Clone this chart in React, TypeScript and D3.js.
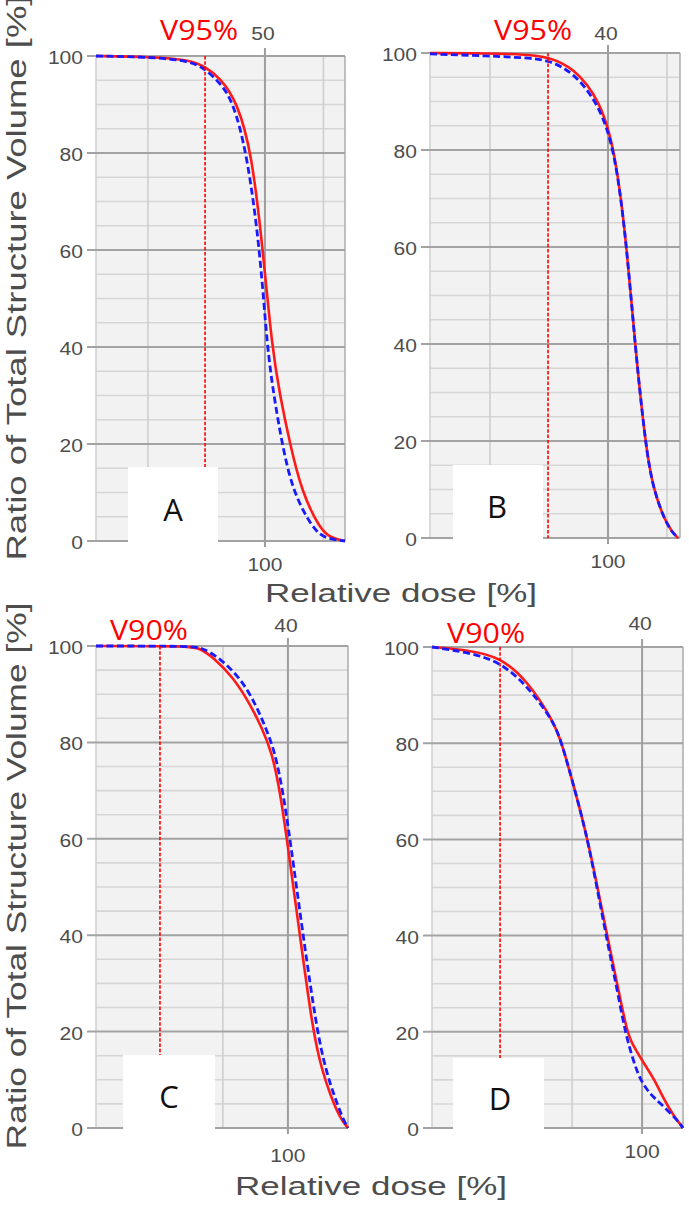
import React from 'react';
import * as d3 from 'd3';

type Pt = [number, number];

// [relative dose %, volume %]
const redA: Pt[] = [[27.8, 100], [51, 99.8], [68, 99.2], [74.4, 97.8], [80.8, 95.5], [88, 90.7], [94.4, 80], [99.1, 60], [103, 40], [106.4, 30], [110.7, 20], [115.8, 10], [123.5, 2.5], [127.8, 0.7], [134.2, 0]];
const blueA: Pt[] = [[27.8, 100], [51, 99.8], [68, 99], [74.4, 97.3], [80.8, 94.5], [86.3, 90.7], [92.3, 80], [97.9, 60], [100.9, 40], [103.8, 30], [107.3, 20], [112, 10], [120.5, 2.5], [125.6, 0.5], [134.2, 0]];

const redB: Pt[] = [[24.6, 100], [50, 99.9], [65, 99.7], [74.6, 99.2], [85.2, 97.1], [96.6, 90.3], [103, 80], [108, 60], [111.4, 40], [115.7, 20], [119, 10], [125.4, 2], [129.7, 0]];
const blueB: Pt[] = [[24.6, 99.8], [50, 99.4], [65, 99], [74.6, 98.6], [85.2, 96.1], [95.8, 89.7], [103, 80], [108, 60], [111.4, 40], [115.7, 20], [119, 10], [125.4, 2], [129.7, 0]];

const redC: Pt[] = [[26.2, 100], [62.3, 100], [66.2, 99.5], [71.2, 97.7], [78.8, 93.6], [85.4, 88], [90, 83], [93.8, 78], [96.9, 70], [99.6, 60], [104.6, 40], [109.6, 20], [113.1, 12], [116.2, 7], [120, 2], [123.1, 0]];
const blueC: Pt[] = [[26.2, 100], [63, 100], [67.3, 99.5], [72.5, 98], [81.5, 93.6], [87.5, 88], [91.5, 83], [95, 78], [98, 70], [100.8, 60], [105.8, 40], [111.2, 20], [114.6, 12], [117.6, 7], [121, 2], [123.1, 0]];

const redD: Pt[] = [[25, 100], [38.6, 99.3], [49.3, 97.9], [58.9, 93.1], [68.2, 84.8], [71.4, 80], [76.1, 70], [80.7, 60], [87.5, 40], [91.1, 30], [94.6, 20], [96.4, 17.5], [101.1, 13], [103.9, 10.6], [108.2, 5.5], [111.1, 2.7], [114.6, 0]];
const blueD: Pt[] = [[25, 100], [38.6, 98.8], [49.3, 96.9], [58.9, 92], [68.2, 84.8], [71.4, 80], [76.1, 70], [80.7, 60], [87.1, 40], [90.7, 30], [93.9, 20], [96.8, 14.1], [99.3, 10], [102.9, 7], [106.4, 5.2], [112.5, 1.7], [114.6, 0]];

const redSeries = [redA, redB, redC, redD];
const blueSeries = [blueA, blueB, blueC, blueD];
const doseDomains: Pt[] = [[27.8, 134.2], [24.6, 130.5], [26.2, 123.1], [25, 114.6]];
const minorDose = [[50, 125], [50, 125], [75], [75]];
const majorDose = [100];
const markerDose = [74.4, 74.6, 50.8, 49.3];
const markerLabels = ['V95%', 'V95%', 'V90%', 'V90%'];
const topTickLabels = ['50', '40', '40', '40'];
const bottomTickLabel = '100';
const panelLetters = ['A', 'B', 'C', 'D'];
const volumeTicks = [0, 20, 40, 60, 80, 100];
const volumeMinor = [5, 10, 15, 25, 30, 35, 45, 50, 55, 65, 70, 75, 85, 90, 95];

const xTitle = 'Relative dose [%]';
const yTitle = 'Ratio of Total Structure Volume [%]';

// page layout of the four panels
const layout = [
  { x0: 96, x1: 345, yTop: 56, yBot: 541, box: [128, 467, 90, 85], letter: [173, 521], markDx: -6, markY: 40, topY: 40, botY: 571 },
  { x0: 430, x1: 680, yTop: 53, yBot: 538, box: [453, 465, 90, 85], letter: [497, 518], markDx: -15, markY: 40, topY: 40, botY: 568 },
  { x0: 96, x1: 348, yTop: 646, yBot: 1128, box: [123, 1055, 92, 85], letter: [169, 1108], markDx: -11, markY: 640, topY: 632, botY: 1162 },
  { x0: 432, x1: 683, yTop: 647, yBot: 1128, box: [453, 1058, 91, 82], letter: [500, 1110], markDx: -14, markY: 643, topY: 630, botY: 1158 },
];

const GRAY_TXT = '#4d4d4d';
const NUM_FONT = '"Liberation Sans", Arial, sans-serif';

const Panel: React.FC<{ i: number }> = ({ i }) => {
  const L = layout[i];
  const x = d3.scaleLinear().domain(doseDomains[i]).range([L.x0, L.x1]);
  const y = d3.scaleLinear().domain([0, 100]).range([L.yBot, L.yTop]);
  const line = d3.line<Pt>().x(d => x(d[0])).y(d => y(d[1])).curve(d3.curveBasis);
  const mx = x(markerDose[i]);
  const numW = (s: string) => s.length * 11.7;

  return (
    <g>
      <rect x={L.x0} y={L.yTop} width={L.x1 - L.x0} height={L.yBot - L.yTop} fill="#f2f2f2" />
      {volumeMinor.map(v => (
        <line key={'hm' + v} x1={L.x0} x2={L.x1} y1={y(v)} y2={y(v)} stroke="#d6d6d6" strokeWidth={1.6} />
      ))}
      {minorDose[i].map(d => (
        <line key={'vm' + d} x1={x(d)} x2={x(d)} y1={L.yTop} y2={L.yBot} stroke="#cfcfcf" strokeWidth={1.6} />
      ))}
      <line x1={L.x0} x2={L.x0} y1={L.yTop} y2={L.yBot} stroke="#cfcfcf" strokeWidth={1.5} />
      <line x1={L.x1} x2={L.x1} y1={L.yTop} y2={L.yBot} stroke="#b0b0b0" strokeWidth={1.6} />
      {volumeTicks.map(v => (
        <g key={'hM' + v}>
          <line x1={L.x0 - 9} x2={L.x1} y1={y(v)} y2={y(v)} stroke="#a3a3a3" strokeWidth={2} />
          <text x={L.x0 - 13} y={y(v) + 8} textAnchor="end" fontFamily={NUM_FONT} fontSize={18}
            fill={GRAY_TXT} textLength={numW(String(v))} lengthAdjust="spacingAndGlyphs">{v}</text>
        </g>
      ))}
      {majorDose.map(d => (
        <g key={'vM' + d}>
          <line x1={x(d)} x2={x(d)} y1={L.yTop - 8} y2={L.yBot + 6} stroke="#9e9e9e" strokeWidth={2} />
          <text x={x(d) - 2} y={L.topY} textAnchor="middle" fontFamily={NUM_FONT} fontSize={18}
            fill={GRAY_TXT} textLength={numW(topTickLabels[i])} lengthAdjust="spacingAndGlyphs">{topTickLabels[i]}</text>
          <text x={x(d)} y={L.botY} textAnchor="middle" fontFamily={NUM_FONT} fontSize={18}
            fill={GRAY_TXT} textLength={numW(bottomTickLabel)} lengthAdjust="spacingAndGlyphs">{bottomTickLabel}</text>
        </g>
      ))}
      <path d={line(redSeries[i]) || ''} fill="none" stroke="#ff1a1a" strokeWidth={2.6} />
      <path d={line(blueSeries[i]) || ''} fill="none" stroke="#1a1aff" strokeWidth={2.8} strokeDasharray="7,3.5" />
      <line x1={mx} x2={mx} y1={L.yTop} y2={L.yBot} stroke="#ff0000" strokeWidth={1.6} strokeDasharray="3.5,1.8" />
      <text x={mx + L.markDx} y={L.markY} textAnchor="middle" fontFamily='"Open Sans", sans-serif' fontSize={28}
        fill="#ff0000" textLength={78} lengthAdjust="spacingAndGlyphs">{markerLabels[i]}</text>
      <rect x={L.box[0]} y={L.box[1]} width={L.box[2]} height={L.box[3]} fill="#ffffff" />
      <text x={L.letter[0]} y={L.letter[1]} textAnchor="middle" fontFamily='"Open Sans", sans-serif' fontSize={31}
        fill="#111">{panelLetters[i]}</text>
    </g>
  );
};

const App: React.FC = () => (
  <svg width={689} height={1207} style={{ position: 'absolute', left: 0, top: 0, background: '#fff' }}>
    {layout.map((_, i) => <Panel key={i} i={i} />)}
    <text x={401} y={602} textAnchor="middle" fontFamily={NUM_FONT} fontSize={26} fill={GRAY_TXT}
      textLength={272} lengthAdjust="spacingAndGlyphs">{xTitle}</text>
    <text x={371} y={1195} textAnchor="middle" fontFamily={NUM_FONT} fontSize={26} fill={GRAY_TXT}
      textLength={272} lengthAdjust="spacingAndGlyphs">{xTitle}</text>
    <text transform="translate(26,278) rotate(-90)" textAnchor="middle" fontFamily={NUM_FONT} fontSize={27}
      fill={GRAY_TXT} textLength={565} lengthAdjust="spacingAndGlyphs">{yTitle}</text>
    <text transform="translate(26,876) rotate(-90)" textAnchor="middle" fontFamily={NUM_FONT} fontSize={27}
      fill={GRAY_TXT} textLength={547} lengthAdjust="spacingAndGlyphs">{yTitle}</text>
  </svg>
);

export default App;
